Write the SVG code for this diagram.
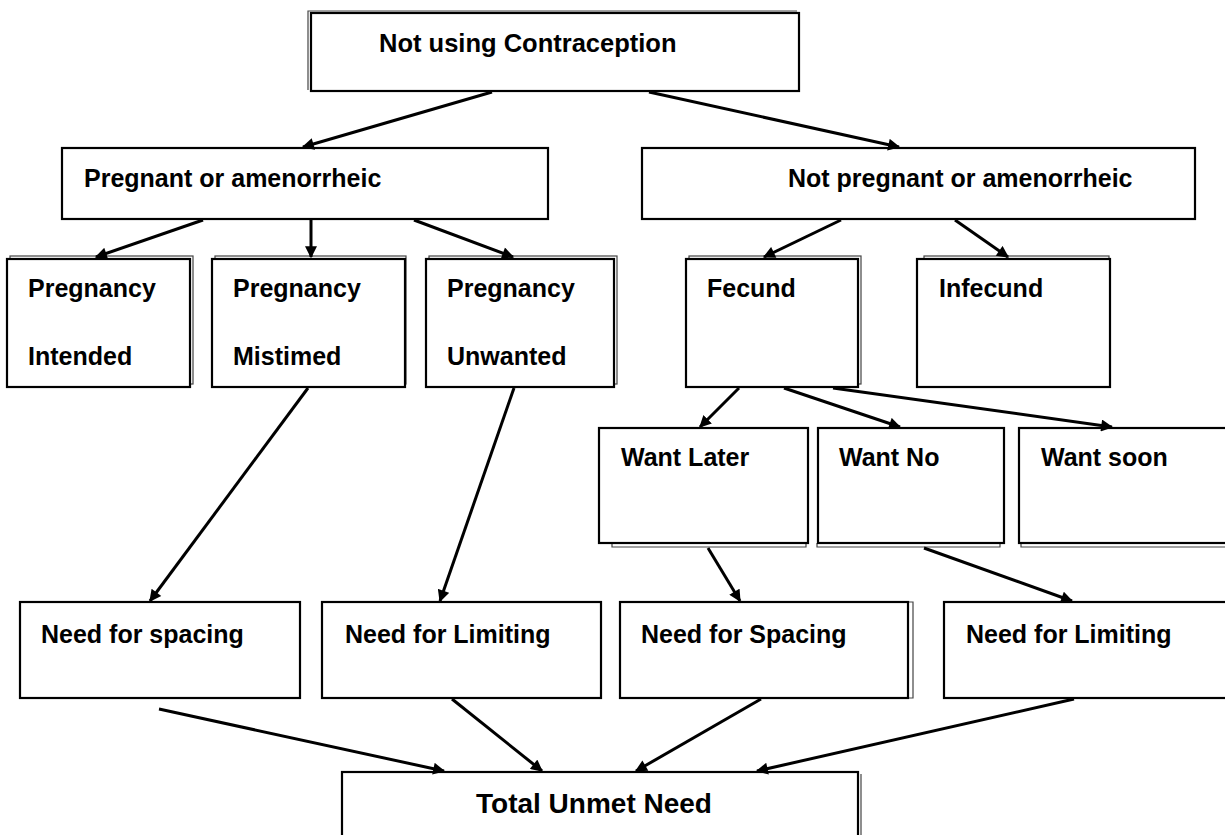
<svg xmlns="http://www.w3.org/2000/svg" width="1225" height="835" viewBox="0 0 1225 835">
<style>
.box{fill:#fff;stroke:#000;stroke-width:2.2}
.back{fill:#fff;stroke:#444;stroke-width:1.2}
.sh{fill:none;stroke:#444;stroke-width:1.2}
.t{font-family:"Liberation Sans",Arial,sans-serif;font-weight:bold;font-size:25px;fill:#000}
.conn line{stroke:#000;stroke-width:3;marker-end:url(#ah)}
</style>
<defs>
<marker id="ah" viewBox="0 0 10 10" refX="9" refY="5" markerWidth="13" markerHeight="12" markerUnits="userSpaceOnUse" orient="auto">
<path d="M0,0 L10,5 L0,10 z" fill="#000"/>
</marker>
</defs>
<rect width="1225" height="835" fill="#fff"/>

<g id="n-top">
<path class="sh" d="M308,90 V11 H797"/>
<rect class="box" x="311" y="13" width="488" height="78"/>
<text class="t" x="379" y="52" style="font-size:25.5px">Not using Contraception</text>
</g>

<g id="n-preg">
<rect class="box" x="62" y="148" width="486" height="71"/>
<text class="t" x="84" y="187">Pregnant or amenorrheic</text>
</g>

<g id="n-notpreg">
<rect class="box" x="642" y="148" width="553" height="71"/>
<text class="t" x="788" y="187">Not pregnant or amenorrheic</text>
</g>

<g id="n-intended">
<rect class="back" x="10" y="256" width="183" height="128"/>
<rect class="box" x="7" y="259" width="183" height="128"/>
<text class="t" x="28" y="297">Pregnancy</text>
<text class="t" x="28" y="365">Intended</text>
</g>

<g id="n-mistimed">
<rect class="back" x="215" y="256" width="191" height="128"/>
<rect class="box" x="212" y="259" width="193" height="128"/>
<text class="t" x="233" y="297">Pregnancy</text>
<text class="t" x="233" y="365">Mistimed</text>
</g>

<g id="n-unwanted">
<rect class="back" x="429" y="256" width="188" height="128"/>
<rect class="box" x="426" y="259" width="188" height="128"/>
<text class="t" x="447" y="297">Pregnancy</text>
<text class="t" x="447" y="365">Unwanted</text>
</g>

<g id="n-fecund">
<rect class="back" x="689" y="256" width="172" height="128"/>
<rect class="box" x="686" y="259" width="172" height="128"/>
<text class="t" x="707" y="297">Fecund</text>
</g>

<g id="n-infecund">
<rect class="back" x="924" y="256" width="185" height="128"/>
<rect class="box" x="917" y="259" width="193" height="128"/>
<text class="t" x="939" y="297">Infecund</text>
</g>

<g id="n-wantlater">
<path class="sh" d="M612,543 V547 H806 V543"/>
<rect class="box" x="599" y="428" width="209" height="115"/>
<text class="t" x="621" y="466">Want Later</text>
</g>

<g id="n-wantno">
<path class="sh" d="M817,543 V547 H1000 V543"/>
<rect class="box" x="818" y="428" width="186" height="115"/>
<text class="t" x="839" y="466">Want No</text>
</g>

<g id="n-wantsoon">
<path class="sh" d="M1021,543 V547 H1230"/>
<rect class="box" x="1019" y="428" width="215" height="115"/>
<text class="t" x="1041" y="466">Want soon</text>
</g>

<g id="n-spacing1">
<rect class="box" x="20" y="602" width="280" height="96"/>
<text class="t" x="41" y="643">Need for spacing</text>
</g>

<g id="n-limiting1">
<line class="sh" x1="325" y1="604" x2="325" y2="696"/>
<rect class="box" x="322" y="602" width="279" height="96"/>
<text class="t" x="345" y="643">Need for Limiting</text>
</g>

<g id="n-spacing2">
<path class="sh" d="M908,602 H913 V698 H908"/>
<rect class="box" x="620" y="602" width="288" height="96"/>
<text class="t" x="641" y="643">Need for Spacing</text>
</g>

<g id="n-limiting2">
<rect class="box" x="944" y="602" width="290" height="96"/>
<text class="t" x="966" y="643">Need for Limiting</text>
</g>

<g id="n-total">
<line class="sh" x1="861" y1="774" x2="861" y2="840"/>
<rect class="box" x="342" y="772" width="516" height="70"/>
<text class="t" x="476" y="813" style="font-size:28px">Total Unmet Need</text>
</g>

<g id="connectors" class="conn">
<line x1="492" y1="92" x2="303" y2="147"/>
<line x1="649" y1="92" x2="899" y2="147"/>
<line x1="203" y1="220" x2="96" y2="257"/>
<line x1="311" y1="220" x2="311" y2="257"/>
<line x1="414" y1="220" x2="513" y2="257"/>
<line x1="841" y1="220" x2="764" y2="257"/>
<line x1="955" y1="220" x2="1008" y2="257"/>
<line x1="308" y1="388" x2="150" y2="601"/>
<line x1="514" y1="388" x2="440" y2="601"/>
<line x1="739" y1="388" x2="700" y2="427"/>
<line x1="784" y1="388" x2="900" y2="427"/>
<line x1="833" y1="388" x2="1112" y2="427"/>
<line x1="708" y1="548" x2="740" y2="601"/>
<line x1="924" y1="548" x2="1072" y2="601"/>
<line x1="159" y1="709" x2="444" y2="771"/>
<line x1="452" y1="699" x2="542" y2="771"/>
<line x1="761" y1="699" x2="636" y2="771"/>
<line x1="1074" y1="699" x2="757" y2="771"/>
</g>
</svg>
